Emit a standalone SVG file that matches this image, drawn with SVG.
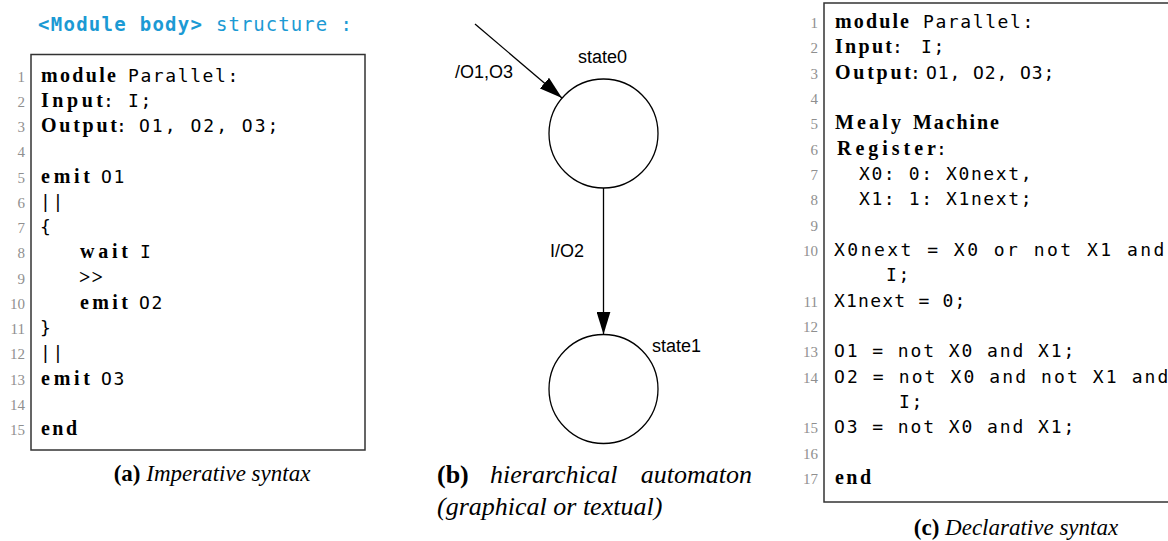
<svg xmlns="http://www.w3.org/2000/svg" width="1168" height="541" viewBox="0 0 1168 541">
<defs>
<style>
.kw{font-family:"Liberation Serif",serif;font-weight:bold;font-size:20px;fill:#000}
.mono{font-family:"DejaVu Sans Mono",monospace;font-size:18px;letter-spacing:1.6px;fill:#000}
.ln{font-family:"Liberation Serif",serif;font-size:15px;fill:#8f8f8f;text-anchor:end}
.hdr{font-family:"DejaVu Sans Mono",monospace;font-size:19px;fill:#1b9ad4}
.lbl{font-family:"Liberation Sans",Arial,sans-serif;font-size:18px;fill:#000}
.cap{font-family:"Liberation Serif",serif;font-size:23px;fill:#000}
.capb{font-family:"Liberation Serif",serif;font-size:26px;fill:#000}
.b{font-weight:bold}
.i{font-style:italic}
.box{fill:#fff;stroke:#333;stroke-width:1.5}
.st{fill:#fff;stroke:#000;stroke-width:1.3}
.edge{stroke:#000;stroke-width:1.3;fill:none}
</style>
<marker id="ah" viewBox="0 0 23 14" refX="23" refY="7" markerWidth="23" markerHeight="14" orient="auto" markerUnits="userSpaceOnUse"><path d="M0,0 L23,7 L0,14 z" fill="#000"/></marker>
</defs>
<rect width="1168" height="541" fill="#fff"/>

<g id="panel-a">
<text class="hdr" x="38" y="31" font-weight="bold" textLength="164">&lt;Module body&gt;</text>
<text class="hdr" x="216" y="31" textLength="136">structure :</text>
<rect class="box" x="31" y="54.5" width="334" height="395.5"/>
<g id="a-lines">
<text class="ln" x="25" y="81.7">1</text>
<text class="ln" x="25" y="106.9">2</text>
<text class="ln" x="25" y="132.2">3</text>
<text class="ln" x="25" y="157.4">4</text>
<text class="ln" x="25" y="182.7">5</text>
<text class="ln" x="25" y="207.9">6</text>
<text class="ln" x="25" y="233.1">7</text>
<text class="ln" x="25" y="258.4">8</text>
<text class="ln" x="25" y="283.6">9</text>
<text class="ln" x="25" y="308.9">10</text>
<text class="ln" x="25" y="334.1">11</text>
<text class="ln" x="25" y="359.3">12</text>
<text class="ln" x="25" y="384.6">13</text>
<text class="ln" x="25" y="409.8">14</text>
<text class="ln" x="25" y="435.1">15</text>
</g>
<g id="a-code">
<text class="kw" x="41" y="81.7" textLength="75">module</text>
<text class="mono" x="128" y="81.7">Parallel:</text>
<text class="kw" x="41" y="106.9" textLength="62">Input</text>
<text class="mono" x="103" y="106.9">:</text>
<text class="mono" x="128" y="106.9">I;</text>
<text class="kw" x="41" y="132.2" textLength="76">Output</text>
<text class="mono" x="116" y="132.2">:</text>
<text class="mono" x="139" y="132.2" textLength="141">O1, O2, O3;</text>
<text class="kw" x="41" y="182.7" textLength="49">emit</text>
<text class="mono" x="101" y="182.7">O1</text>
<text class="mono" x="40" y="207.9">||</text>
<text class="mono" x="40" y="233.1">{</text>
<text class="kw" x="80" y="258.4" textLength="48">wait</text>
<text class="mono" x="140" y="258.4">I</text>
<text class="kw" x="79" y="283.6" textLength="24">&gt;&gt;</text>
<text class="kw" x="80" y="308.9" textLength="48">emit</text>
<text class="mono" x="139" y="308.9">O2</text>
<text class="mono" x="40" y="334.1">}</text>
<text class="mono" x="40" y="359.3">||</text>
<text class="kw" x="41" y="384.6" textLength="49">emit</text>
<text class="mono" x="101" y="384.6">O3</text>
<text class="kw" x="41" y="435.1" textLength="36">end</text>
</g>
<text class="cap" x="212" y="481" text-anchor="middle"><tspan class="b">(a)</tspan><tspan class="i"> Imperative syntax</tspan></text>
</g>

<g id="panel-b">
<g id="state0"><circle class="st" cx="603.5" cy="133.5" r="54.5"/><text class="lbl" x="578" y="63">state0</text></g>
<g id="state1"><circle class="st" cx="603.5" cy="389" r="54.5"/><text class="lbl" x="652" y="352">state1</text></g>
<g id="connectors">
<line class="edge" x1="475" y1="24" x2="562" y2="98" marker-end="url(#ah)"/>
<line class="edge" x1="603.5" y1="188" x2="603.5" y2="334.5" marker-end="url(#ah)"/>
<text class="lbl" x="455" y="78">/O1,O3</text>
<text class="lbl" x="550" y="257">I/O2</text>
</g>
<text class="capb b" x="437" y="483">(b)</text>
<text class="capb i" x="490" y="483">hierarchical</text>
<text class="capb i" x="752" y="483" text-anchor="end">automaton</text>
<text class="capb i" x="437" y="515">(graphical or textual)</text>
</g>

<g id="panel-c">
<rect class="box" x="824" y="3" width="360" height="499"/>
<g id="c-lines">
<text class="ln" x="818" y="28">1</text>
<text class="ln" x="818" y="53.3">2</text>
<text class="ln" x="818" y="78.7">3</text>
<text class="ln" x="818" y="104">4</text>
<text class="ln" x="818" y="129.3">5</text>
<text class="ln" x="818" y="154.7">6</text>
<text class="ln" x="818" y="180">7</text>
<text class="ln" x="818" y="205.3">8</text>
<text class="ln" x="818" y="230.7">9</text>
<text class="ln" x="818" y="256">10</text>
<text class="ln" x="818" y="306.7">11</text>
<text class="ln" x="818" y="332">12</text>
<text class="ln" x="818" y="357.3">13</text>
<text class="ln" x="818" y="382.7">14</text>
<text class="ln" x="818" y="433.3">15</text>
<text class="ln" x="818" y="458.7">16</text>
<text class="ln" x="818" y="484">17</text>
</g>
<g id="c-code">
<text class="kw" x="835" y="28" textLength="74">module</text>
<text class="mono" x="923" y="28">Parallel:</text>
<text class="kw" x="835" y="53.3" textLength="57">Input</text>
<text class="mono" x="892" y="53.3">:</text>
<text class="mono" x="921" y="53.3">I;</text>
<text class="kw" x="835" y="78.7" textLength="76">Output</text>
<text class="mono" x="910" y="78.7">:</text>
<text class="mono" x="926" y="78.7" textLength="130">O1, O2, O3;</text>
<text class="kw" x="835" y="129.3" textLength="66">Mealy</text>
<text class="kw" x="913" y="129.3" textLength="86">Machine</text>
<text class="kw" x="837" y="154.7" textLength="99">Register</text>
<text class="mono" x="936" y="154.7">:</text>
<text class="mono" x="859" y="180">X0: 0: X0next,</text>
<text class="mono" x="859" y="205.3">X1: 1: X1next;</text>
<text class="mono" x="834" y="256" textLength="332">X0next = X0 or not X1 and</text>
<text class="mono" x="886" y="281.3">I;</text>
<text class="mono" x="834" y="306.7" textLength="133">X1next = 0;</text>
<text class="mono" x="834" y="357.3" textLength="242">O1 = not X0 and X1;</text>
<text class="mono" x="834" y="382.7" textLength="336">O2 = not X0 and not X1 and</text>
<text class="mono" x="899" y="408">I;</text>
<text class="mono" x="834" y="433.3" textLength="242">O3 = not X0 and X1;</text>
<text class="kw" x="835" y="484" textLength="36">end</text>
</g>
<text class="cap" x="1016" y="535" text-anchor="middle"><tspan class="b">(c)</tspan><tspan class="i"> Declarative syntax</tspan></text>
</g>
</svg>
